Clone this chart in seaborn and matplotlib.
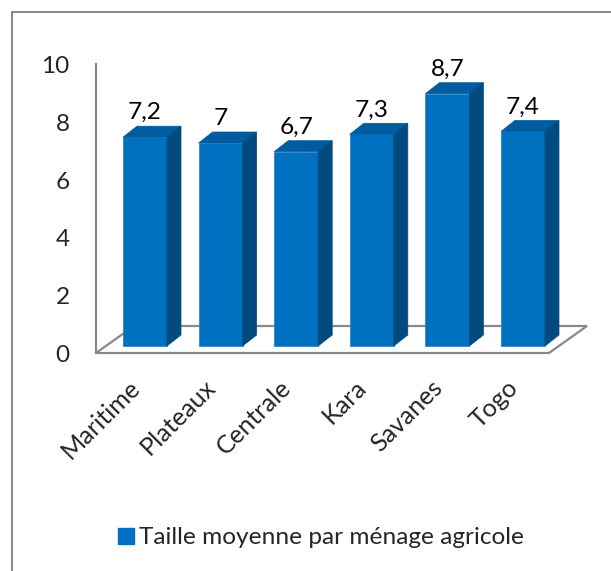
import matplotlib
matplotlib.use("Agg")
import matplotlib.pyplot as plt
import matplotlib.transforms as mtransforms
from matplotlib.patches import Polygon, Rectangle, Patch
import seaborn as sns
import pandas as pd

# ---- data ----
regions = ["Maritime", "Plateaux", "Centrale", "Kara", "Savanes", "Togo"]
values = [7.2, 7.0, 6.7, 7.3, 8.7, 7.4]
yticks = [0, 2, 4, 6, 8, 10]
series_name = "Taille moyenne par ménage agricole"

# ---- style ----
sns.set_style("white")
plt.rcParams["font.family"] = ["Lato", "DejaVu Sans"]
FS = 17.6
FS_X = 18.2
FRONT = "#0070C0"
TOP = "#005C9F"
SIDE = "#004A80"
GRID = "#898989"

W, H = 611, 571
fig = plt.figure(figsize=(W / 100, H / 100), dpi=100)

# axes placed in pixel terms (front floor plane)
ax_l, ax_r, ax_t, ax_b = 96, 587, 64, 353
ax = fig.add_axes([ax_l / W, 1 - ax_b / H, (ax_r - ax_l) / W, (ax_b - ax_t) / H])

df = pd.DataFrame({"region": regions, "value": values})
sns.barplot(data=df, x="region", y="value", color=FRONT, saturation=1,
            width=0.582, ax=ax, zorder=3, edgecolor="#2f86c8", linewidth=0.6)

# scales: 75.6 px per category, 29 px per unit
px_cat, px_val = 75.6, 29.0
x0_center = 145
y0_front = 346
ax.set_xlim((ax_l - x0_center) / px_cat, (ax_r - x0_center) / px_cat)
ax.set_ylim(-(ax_b - y0_front) / px_val, (y0_front - ax_t) / px_val)
floor_off = -(ax_b - y0_front) / px_val

# depth offsets
dx = 14 / px_cat
dy = 11 / px_val

# floor parallelogram
fx_l = (ax_l - x0_center) / px_cat
fx_r = (549 - x0_center) / px_cat
bx_l = (134 - x0_center) / px_cat
bx_r = (587 - x0_center) / px_cat
by = (y0_front - 326) / px_val
floor = Polygon([(fx_l, floor_off), (fx_r, floor_off), (bx_r, by), (bx_l, by)],
                closed=True, facecolor="white", edgecolor=GRID, lw=1.6,
                zorder=1, clip_on=False, joinstyle="miter")
ax.add_patch(floor)

# 3D faces for each bar
for p in list(ax.patches):
    if p is floor:
        continue
    x0 = p.get_x()
    x1 = x0 + p.get_width()
    h = p.get_height()
    top = Polygon([(x0, h), (x1, h), (x1 + dx, h + dy), (x0 + dx, h + dy)],
                  closed=True, facecolor=TOP, edgecolor=TOP, lw=0.5, zorder=3)
    side = Polygon([(x1, 0), (x1 + dx, dy), (x1 + dx, h + dy), (x1, h)],
                   closed=True, facecolor=SIDE, edgecolor=SIDE, lw=0.5, zorder=3)
    ax.add_patch(top)
    ax.add_patch(side)

# value labels
bars = ax.containers[0]
labels = [f"{v:g}".replace(".", ",") for v in values]
ax.bar_label(bars, labels=labels, padding=10, fontsize=FS, color="black")

# axes styling
for s in ["top", "right", "bottom"]:
    ax.spines[s].set_visible(False)
ax.spines["left"].set_color(GRID)
ax.spines["left"].set_linewidth(1.6)
ax.set_yticks([t * (288 / 290) + floor_off for t in yticks])
ax.set_yticklabels([str(t) for t in yticks], fontsize=FS)
ax.tick_params(axis="y", length=0, pad=19)
ax.set_xticks(range(len(regions)))
ax.set_xticklabels(regions, fontsize=FS_X, rotation=45, ha="right",
                   va="center", rotation_mode="anchor")
ax.tick_params(axis="x", length=0, pad=22)
offset = mtransforms.ScaledTranslation(-9 / 100, 0, fig.dpi_scale_trans)
for lab in ax.get_xticklabels():
    lab.set_transform(lab.get_transform() + offset)
ax.set_xlabel("")
ax.set_ylabel("")
ax.patch.set_alpha(0)

# legend
handle = Patch(facecolor=FRONT, edgecolor=FRONT)
fig.legend([handle], [series_name], loc="center",
           bbox_to_anchor=(321 / W, 1 - 538 / H), frameon=False,
           fontsize=FS, handlelength=0.62, handleheight=0.62,
           handletextpad=0.2, borderpad=0, borderaxespad=0)

# outer chart frame
frame = Rectangle((12 / W, -0.2), 1.5, 1.2 - 12 / H, transform=fig.transFigure,
                  fill=False, edgecolor="#8c8c8c", lw=1.5, zorder=10)
fig.add_artist(frame)

fig.savefig("out.png", dpi=100)
